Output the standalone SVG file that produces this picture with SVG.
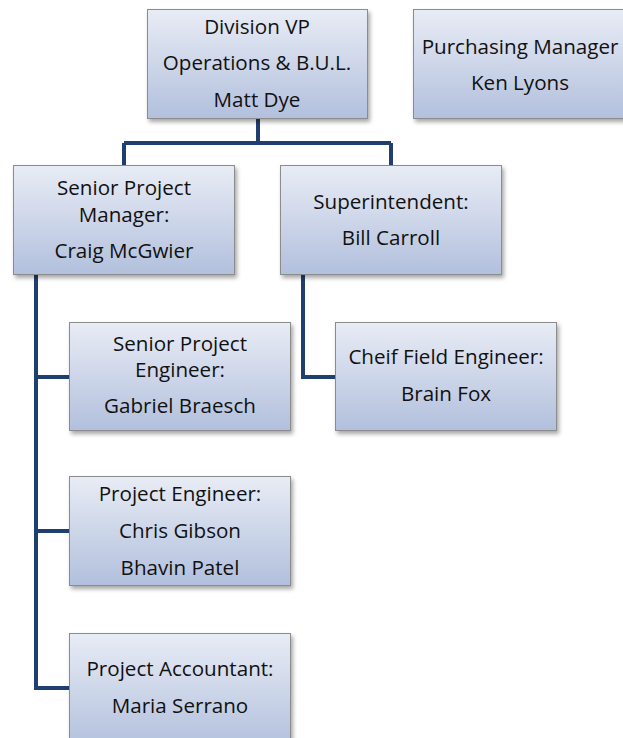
<svg xmlns="http://www.w3.org/2000/svg" width="623" height="738" viewBox="0 0 623 738">
<defs>
<linearGradient id="g" x1="0" y1="0" x2="0" y2="1">
<stop offset="0" stop-color="#E8ECF5"/>
<stop offset="1" stop-color="#B2C0DD"/>
</linearGradient>
<filter id="sh" x="-10%" y="-10%" width="120%" height="130%">
<feDropShadow dx="2" dy="3" stdDeviation="2" flood-color="#000" flood-opacity="0.35"/>
</filter>
</defs>
<style>
.box{fill:url(#g);stroke:#8C8C8C;stroke-width:1;filter:url(#sh)}
.t{font-family:"Open Sans","Liberation Sans",sans-serif;font-size:20.6px;fill:#111;text-anchor:middle}
.c{fill:none;stroke:#1F3F6E;stroke-width:4;stroke-linejoin:miter}
</style>
<rect width="623" height="738" fill="#fff"/>
<g id="connectors">
<path class="c" d="M258 119 V143 M124 143 H391 M124 143 V165 M391 143 V165"/>
<path class="c" d="M36 275 V688 H69 M36 377 H69 M36 531 H69"/>
<path class="c" d="M303 275 V377 H335"/>
</g>
<g id="division-vp">
<rect class="box" x="147.5" y="9.5" width="220" height="109"/>
<text class="t" x="257" y="34">Division VP</text>
<text class="t" x="257" y="70">Operations &amp; B.U.L.</text>
<text class="t" x="257" y="107">Matt Dye</text>
</g>
<g id="purchasing">
<rect class="box" x="413.5" y="9.5" width="214" height="109"/>
<text class="t" x="520" y="54">Purchasing Manager</text>
<text class="t" x="520" y="90">Ken Lyons</text>
</g>
<g id="senior-pm">
<rect class="box" x="13.5" y="165.5" width="221" height="109"/>
<text class="t" x="124" y="195">Senior Project</text>
<text class="t" x="124" y="222">Manager:</text>
<text class="t" x="124" y="258">Craig McGwier</text>
</g>
<g id="superintendent">
<rect class="box" x="280.5" y="165.5" width="221" height="109"/>
<text class="t" x="391" y="209">Superintendent:</text>
<text class="t" x="391" y="245">Bill Carroll</text>
</g>
<g id="senior-pe">
<rect class="box" x="69.5" y="322.5" width="221" height="108"/>
<text class="t" x="180" y="351">Senior Project</text>
<text class="t" x="180" y="377">Engineer:</text>
<text class="t" x="180" y="413">Gabriel Braesch</text>
</g>
<g id="chief-fe">
<rect class="box" x="335.5" y="322.5" width="221" height="108"/>
<text class="t" x="446" y="364">Cheif Field Engineer:</text>
<text class="t" x="446" y="401">Brain Fox</text>
</g>
<g id="project-engineer">
<rect class="box" x="69.5" y="476.5" width="221" height="109"/>
<text class="t" x="180" y="501">Project Engineer:</text>
<text class="t" x="180" y="538">Chris Gibson</text>
<text class="t" x="180" y="575">Bhavin Patel</text>
</g>
<g id="project-accountant">
<rect class="box" x="69.5" y="633.5" width="221" height="115"/>
<text class="t" x="180" y="676">Project Accountant:</text>
<text class="t" x="180" y="713">Maria Serrano</text>
</g>
</svg>
